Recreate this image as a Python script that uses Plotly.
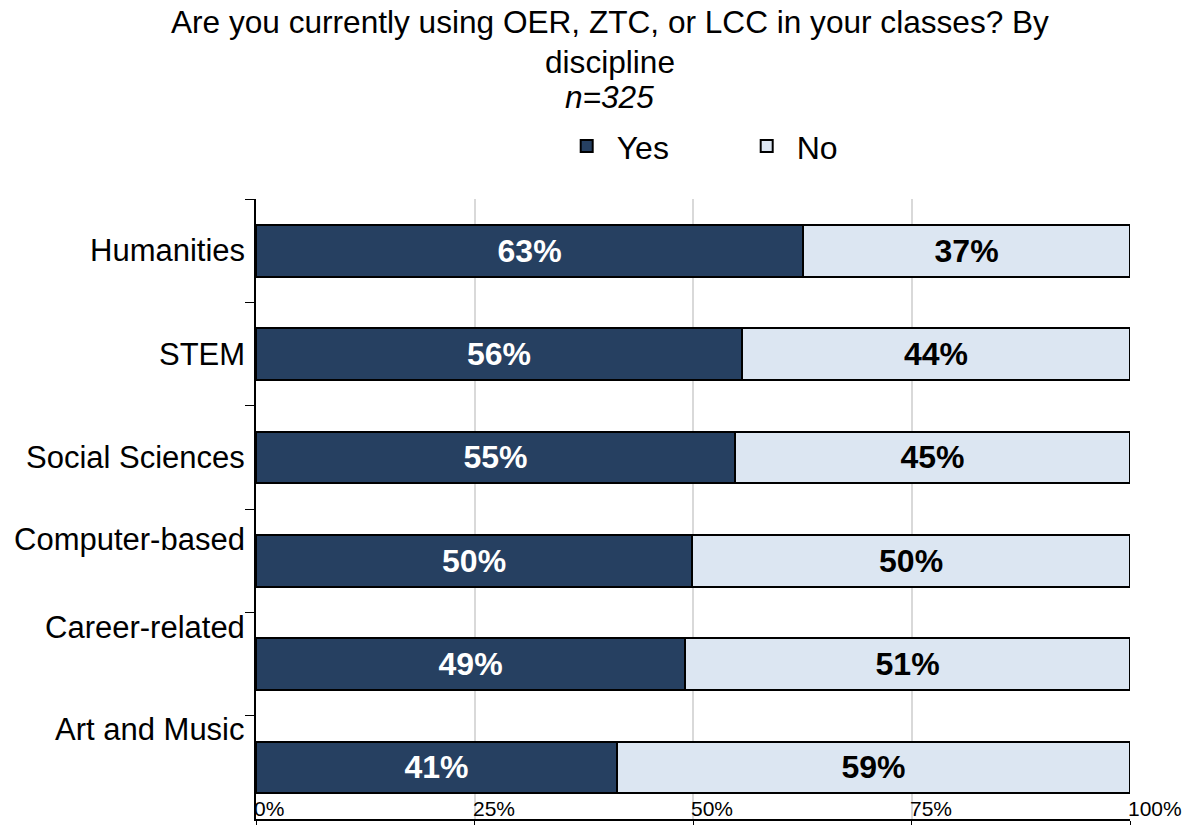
import plotly.graph_objects as go

categories = ["Humanities", "STEM", "Social Sciences", "Computer-based", "Career-related", "Art and Music"]
yes_values = [62.6, 55.6, 54.8, 49.9, 49.1, 41.3]
no_values = [37.4, 44.4, 45.2, 50.1, 50.9, 58.7]
yes_labels = ["63%", "56%", "55%", "50%", "49%", "41%"]
no_labels = ["37%", "44%", "45%", "50%", "51%", "59%"]
# labels of wrapped categories sit higher than their bars in the original
label_shift = [0, 0, 0, 21, 37, 38]
x_ticks = [0, 25, 50, 75, 100]
x_tick_labels = ["0%", "25%", "50%", "75%", "100%"]
title_lines = [
    "Are you currently using OER, ZTC, or LCC in your classes? By",
    "discipline",
    "<i>n=325</i>",
]

font_family = "Liberation Sans, Arial, sans-serif"

fig = go.Figure()
fig.add_trace(
    go.Bar(
        y=categories,
        x=yes_values,
        orientation="h",
        name="Yes",
        text=yes_labels,
        textposition="inside",
        insidetextanchor="middle",
        textfont=dict(color="white", size=32, family=font_family, weight="bold"),
        marker=dict(color="#264061", line=dict(color="black", width=2)),
    )
)
fig.add_trace(
    go.Bar(
        y=categories,
        x=no_values,
        orientation="h",
        name="No",
        text=no_labels,
        textposition="inside",
        insidetextanchor="middle",
        textfont=dict(color="black", size=32, family=font_family, weight="bold"),
        marker=dict(color="#DCE6F2", line=dict(color="black", width=2)),
    )
)

for cat, shift in zip(categories, label_shift):
    fig.add_annotation(
        x=0,
        y=cat,
        xref="paper",
        yref="y",
        text=cat,
        showarrow=False,
        xanchor="right",
        yanchor="middle",
        xshift=-9,
        yshift=shift,
        font=dict(size=31, color="black", family=font_family),
    )

# x tick labels sit inside the plot, just above the axis line, left-aligned on the tick
for val, lab in zip(x_ticks, x_tick_labels):
    fig.add_annotation(
        x=val,
        y=0,
        xref="x",
        yref="paper",
        text=lab,
        showarrow=False,
        xanchor="left",
        yanchor="bottom",
        xshift=-4,
        yshift=-3,
        font=dict(size=21, color="black", family=font_family),
    )

# title drawn line by line to keep the original line spacing
for line, ypos in zip(title_lines, [1.2855, 1.221, 1.1645]):
    fig.add_annotation(
        x=0.405,
        y=ypos,
        xref="paper",
        yref="paper",
        text=line,
        showarrow=False,
        xanchor="center",
        yanchor="middle",
        font=dict(size=31.6, color="black", family=font_family),
    )

fig.update_layout(
    barmode="stack",
    bargap=0.5,
    width=1195,
    height=825,
    paper_bgcolor="white",
    plot_bgcolor="white",
    font=dict(family=font_family, color="black"),
    margin=dict(l=256, r=65, t=199, b=6, autoexpand=False),
    legend=dict(
        orientation="h",
        x=0.55,
        xanchor="center",
        y=1.085,
        yanchor="middle",
        font=dict(size=32),
        itemwidth=50,
        entrywidth=115,
        traceorder="normal",
    ),
    showlegend=True,
    uniformtext=dict(mode="show", minsize=10),
)

fig.update_xaxes(
    range=[0, 100],
    tickvals=x_ticks,
    showticklabels=False,
    ticks="outside",
    ticklen=7,
    tickcolor="black",
    showline=True,
    linecolor="black",
    linewidth=1.5,
    showgrid=True,
    gridcolor="#D9D9D9",
    gridwidth=1.5,
    zeroline=False,
    fixedrange=True,
)
fig.update_yaxes(
    categoryorder="array",
    categoryarray=categories,
    range=[5.5, -0.5],
    showticklabels=False,
    ticks="outside",
    tickson="boundaries",
    ticklen=9,
    tickcolor="black",
    showline=True,
    linecolor="black",
    linewidth=1.5,
    showgrid=False,
    fixedrange=True,
)

fig.write_html(
    "out.html",
    config={"displayModeBar": False},
    post_script="document.body.style.margin='0';",
)
